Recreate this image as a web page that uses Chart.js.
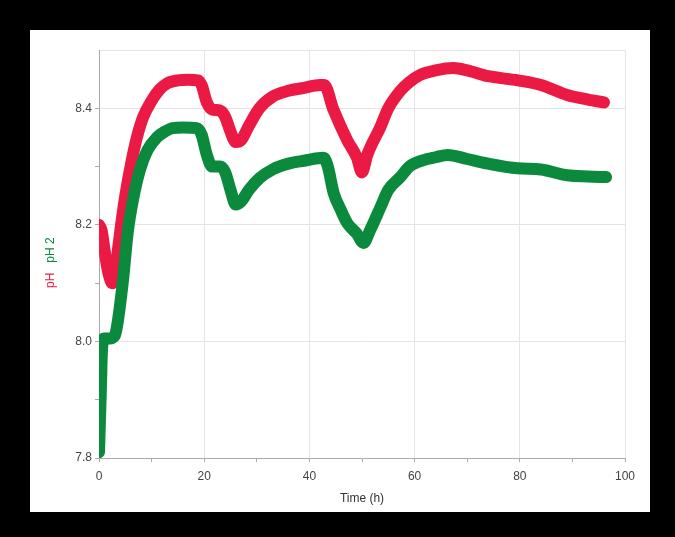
<!DOCTYPE html>
<html>
<head>
<meta charset="utf-8">
<script src="https://cdn.jsdelivr.net/npm/chart.js@4"></script>
<style>
  html, body { margin: 0; padding: 0; background: #000; }
  #wrap { width: 675px; height: 537px; }
</style>
</head>
<body>
<div id="wrap"><canvas id="phChart" width="675" height="537"></canvas></div>
<script>
// pH (red) readings over time
const redTime = [0, 0.5, 1, 1.5, 2, 2.5, 3, 3.5, 4.2, 5, 6.1, 7.2, 8.4, 10, 11.5, 13, 15, 17, 18.8, 19.5, 20.5, 21.5, 23, 24, 25, 26, 27, 28.5, 30.5, 33, 36, 39, 42, 42.8, 44.6, 47.2, 49, 50, 51, 53.5, 55, 57.3, 59, 61, 64, 67.4, 70, 74, 79.6, 84, 89, 93, 96];
const redPH = [8.20, 8.19, 8.16, 8.13, 8.11, 8.10, 8.11, 8.15, 8.20, 8.25, 8.305, 8.35, 8.385, 8.413, 8.432, 8.443, 8.448, 8.449, 8.448, 8.44, 8.41, 8.398, 8.396, 8.385, 8.36, 8.342, 8.345, 8.37, 8.40, 8.42, 8.43, 8.435, 8.44, 8.44, 8.397, 8.345, 8.316, 8.29, 8.32, 8.368, 8.40, 8.43, 8.445, 8.457, 8.465, 8.469, 8.465, 8.455, 8.448, 8.44, 8.423, 8.415, 8.41];

// pH 2 (green) readings over time
const greenTime = [0, 0.3, 0.6, 1, 2, 3, 3.5, 4.5, 5.5, 6.5, 7.8, 9.2, 11, 12.5, 14, 16, 18.6, 19.5, 20.5, 21.5, 23, 24, 25, 26, 27, 28.5, 30.5, 33, 36, 39, 42.7, 43.5, 44.6, 46, 47.2, 49, 50.3, 51.5, 53.5, 55, 57.3, 59, 61.7, 64, 66.3, 70, 74, 79.6, 84, 89, 93, 96.4];
const greenPH = [7.81, 7.90, 7.99, 8.005, 8.005, 8.01, 8.03, 8.10, 8.19, 8.245, 8.295, 8.328, 8.35, 8.36, 8.366, 8.367, 8.366, 8.355, 8.32, 8.30, 8.30, 8.29, 8.26, 8.235, 8.24, 8.26, 8.28, 8.295, 8.305, 8.31, 8.315, 8.30, 8.255, 8.225, 8.203, 8.185, 8.169, 8.19, 8.23, 8.26, 8.282, 8.30, 8.311, 8.316, 8.32, 8.313, 8.305, 8.297, 8.295, 8.285, 8.283, 8.282];

const redColor = '#ea1a45';
const greenColor = '#0b8a3e';
const gridColor = '#e4e4e4';

const toPoints = (xs, ys) => xs.map((x, i) => ({ x: x, y: ys[i] }));

// black frame with a white panel
const framePlugin = {
  id: 'frame',
  beforeDraw(chart) {
    const c = chart.ctx;
    c.save();
    c.fillStyle = '#000';
    c.fillRect(0, 0, chart.width, chart.height);
    c.fillStyle = '#fff';
    c.fillRect(30, 30, 620, 482);
    c.restore();
  }
};

// two-coloured y axis title: "pH" and "pH 2"
const yTitlePlugin = {
  id: 'yTitle',
  afterDraw(chart) {
    const c = chart.ctx;
    c.save();
    c.translate(51, 288);
    c.rotate(-Math.PI / 2);
    c.font = '12px "Liberation Sans", Arial, sans-serif';
    c.textBaseline = 'middle';
    c.textAlign = 'left';
    c.fillStyle = redColor;
    c.fillText('pH', 0, 0);
    const w = c.measureText('pH').width;
    c.fillStyle = greenColor;
    c.fillText('pH 2', w + 10, 0);
    c.restore();
  }
};

new Chart(document.getElementById('phChart'), {
  type: 'line',
  data: {
    datasets: [
      {
        label: 'pH 2',
        data: toPoints(greenTime, greenPH),
        borderColor: greenColor,
        borderWidth: 12,
        pointRadius: 0,
        cubicInterpolationMode: 'monotone',
        borderCapStyle: 'round',
        borderJoinStyle: 'round'
      },
      {
        label: 'pH',
        data: toPoints(redTime, redPH),
        borderColor: redColor,
        borderWidth: 12,
        pointRadius: 0,
        cubicInterpolationMode: 'monotone',
        borderCapStyle: 'round',
        borderJoinStyle: 'round'
      }
    ]
  },
  options: {
    responsive: false,
    animation: false,
    layout: { padding: { left: 30, top: 50, right: 50, bottom: 31 } },
    plugins: {
      legend: { display: false },
      tooltip: { enabled: false }
    },
    scales: {
      x: {
        type: 'linear',
        min: 0,
        max: 100,
        afterFit(scale) { scale.height = 48; },
        ticks: {
          stepSize: 10,
          autoSkip: false,
          maxRotation: 0,
          padding: 7,
          color: '#444',
          font: { family: '"Liberation Sans", Arial, sans-serif', size: 12 },
          callback: v => (v % 20 === 0 ? v : '')
        },
        grid: {
          color: ctx => (ctx.tick && ctx.tick.value % 20 === 0 ? gridColor : 'rgba(0,0,0,0)'),
          tickColor: '#aaa',
          tickLength: 4
        },
        border: { color: '#aaa' },
        title: {
          display: true,
          text: 'Time (h)',
          color: '#333',
          font: { family: '"Liberation Sans", Arial, sans-serif', size: 12 },
          padding: { top: 0, bottom: 0 }
        }
      },
      y: {
        min: 7.8,
        max: 8.5,
        afterFit(scale) { scale.width = 69; },
        ticks: {
          stepSize: 0.1,
          autoSkip: false,
          color: '#444',
          font: { family: '"Liberation Sans", Arial, sans-serif', size: 12 },
          callback: v => {
            const k = Math.round(v * 10);
            return (k % 2 === 0 && k <= 84) ? (k / 10).toFixed(1) : '';
          }
        },
        grid: {
          color: ctx => {
            if (!ctx.tick) return 'rgba(0,0,0,0)';
            const k = Math.round(ctx.tick.value * 10);
            return (k % 2 === 0 || k === 85) ? gridColor : 'rgba(0,0,0,0)';
          },
          tickColor: ctx => {
            const k = ctx.tick ? Math.round(ctx.tick.value * 10) : 0;
            return k === 85 ? 'rgba(0,0,0,0)' : '#aaa';
          },
          tickLength: 4
        },
        border: { color: '#aaa' }
      }
    }
  },
  plugins: [framePlugin, yTitlePlugin]
});
</script>
</body>
</html>
